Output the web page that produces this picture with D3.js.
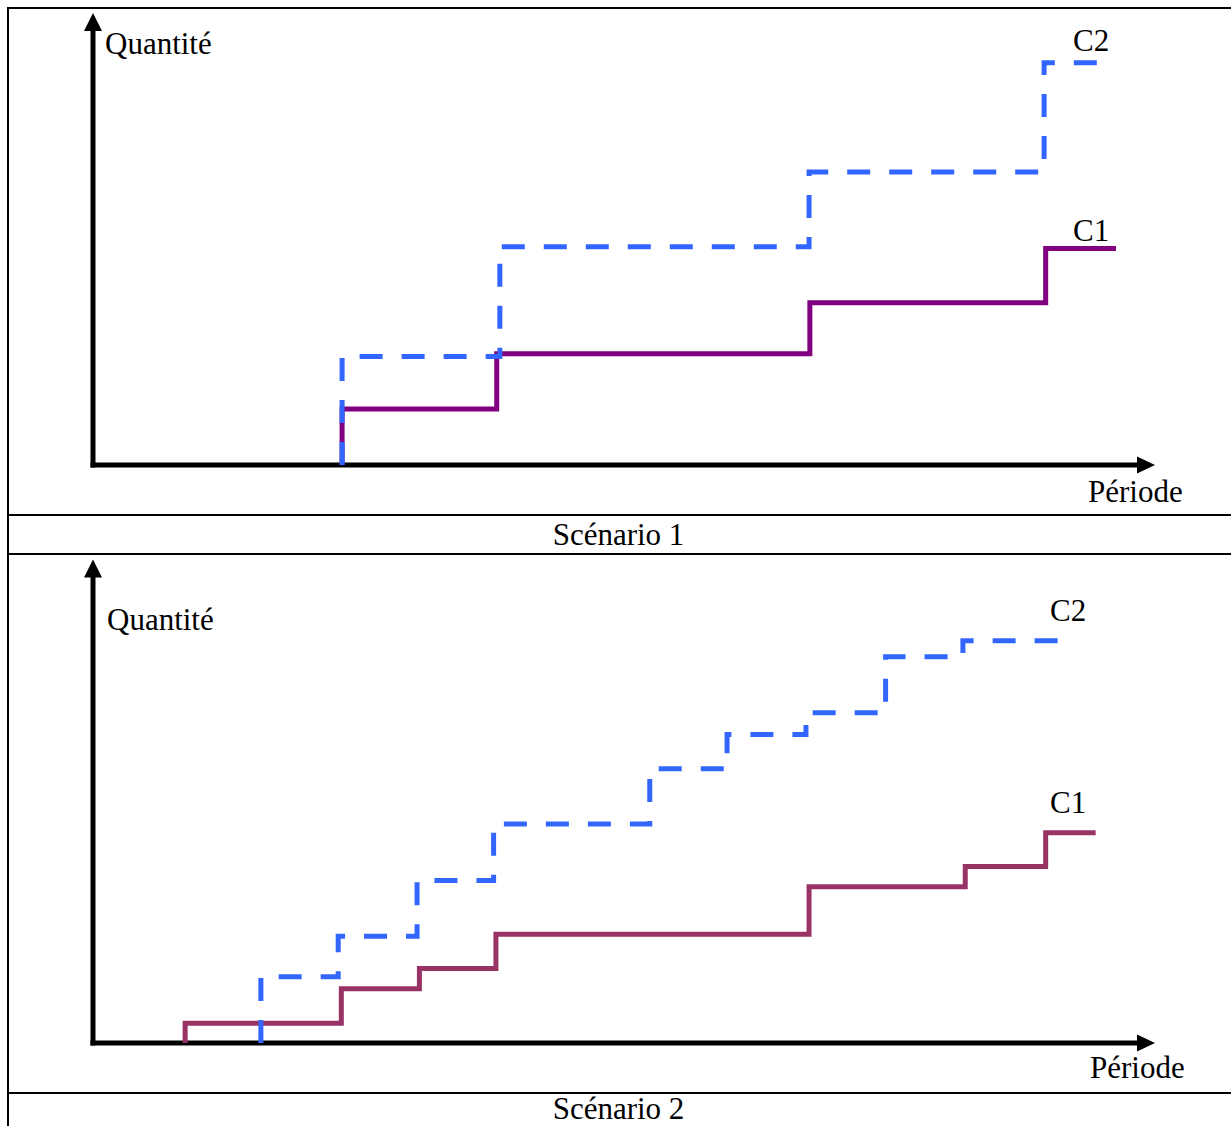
<!DOCTYPE html>
<meta charset="utf-8">
<head>
<style>
body {
  margin: 0;
  background: #fff;
}

text {
  font-family: 'Liberation Serif', 'Times New Roman', serif;
  font-size: 31px;
  fill: #000;
}

.frame {
  stroke: #000;
  stroke-width: 2;
}

.axis {
  stroke: #000;
  stroke-width: 5;
  fill: none;
}

.arrow {
  fill: #000;
}

.step {
  fill: none;
  stroke-width: 5;
  stroke-linejoin: miter;
  stroke-linecap: butt;
}
</style>
</head>

<body>
<div id="chart"></div>

<script src="https://d3js.org/d3.v7.min.js"></script>
<script>

// step data: x = period where each step starts (last value = end of line),
// levels = quantity held after each step (0-100 of the axis height)
var seriesNames = ["C1", "C2"];
var captions = ["Scénario 1", "Scénario 2"];
var yLabel = "Quantité";
var xLabel = "Période";

var s1C1Steps = [3.19, 5.17, 9.18, 12.20, 13.10];
var s1C1Levels = [12.4, 24.6, 35.9, 47.9];
var s1C2Steps = [3.19, 5.21, 9.17, 12.18, 13.02];
var s1C2Levels = [24.0, 48.3, 64.8, 89.0];

var s2C1Steps = [1.18, 3.18, 4.18, 5.16, 9.17, 11.17, 12.20, 12.84];
var s2C1Levels = [4.1, 11.2, 15.4, 22.5, 32.3, 36.5, 43.5];
var s2C2Steps = [2.15, 3.14, 4.15, 5.13, 7.13, 8.12, 9.13, 10.15, 11.14, 12.53];
var s2C2Levels = [13.7, 22.1, 33.6, 45.3, 56.7, 63.8, 68.3, 79.9, 83.2];

var W = 1231, H = 1126;

var svg = d3.select("#chart").append("svg")
    .attr("width", W)
    .attr("height", H);

var x = d3.scaleLinear()
    .domain([0, 13.6])
    .range([93, 1155]);

var panels = [
  {
    axisY: 465, tipY: 13, caption: captions[0], capY: 545,
    qx: 105, qy: 54, px: 1088, py: 502,
    labelX: 1073, labelDy: [-7, -12],
    colors: ["#800080", "#3366ff"],
    steps: [s1C1Steps, s1C2Steps], levels: [s1C1Levels, s1C2Levels]
  },
  {
    axisY: 1043, tipY: 559.5, caption: captions[1], capY: 1119,
    qx: 107, qy: 630, px: 1090, py: 1078,
    labelX: 1050, labelDy: [-20, -20],
    colors: ["#993366", "#3366ff"],
    steps: [s2C1Steps, s2C2Steps], levels: [s2C1Levels, s2C2Levels]
  }
];

// table frame
svg.append("line").attr("class", "frame")
    .attr("x1", 8).attr("x2", 8).attr("y1", 7).attr("y2", H);
[8, 515, 554, 1093].forEach(function(yy) {
  svg.append("line").attr("class", "frame")
      .attr("x1", 7).attr("x2", W).attr("y1", yy).attr("y2", yy);
});

panels.forEach(function(p) {
  var y = d3.scaleLinear()
      .domain([0, 100])
      .range([p.axisY, p.tipY]);

  var g = svg.append("g");
  var x0 = x.range()[0], x1 = x.range()[1];
  var y0 = y(0), yTop = y(100);

  // axes
  g.append("line").attr("class", "axis")
      .attr("x1", x0).attr("x2", x0)
      .attr("y1", y0 + 2.5).attr("y2", yTop + 15);
  g.append("line").attr("class", "axis")
      .attr("x1", x0 - 2.5).attr("x2", x1 - 15)
      .attr("y1", y0).attr("y2", y0);
  g.append("path").attr("class", "arrow")
      .attr("d", "M" + x0 + "," + yTop + "L" + (x0 + 9) + "," + (yTop + 18) +
                 "L" + (x0 - 9) + "," + (yTop + 18) + "Z");
  g.append("path").attr("class", "arrow")
      .attr("d", "M" + x1 + "," + y0 + "L" + (x1 - 18) + "," + (y0 - 8.5) +
                 "L" + (x1 - 18) + "," + (y0 + 8.5) + "Z");

  var line = d3.line()
      .x(function(d) { return x(d[0]); })
      .y(function(d) { return y(d[1]); })
      .curve(d3.curveStepAfter);

  seriesNames.forEach(function(name, i) {
    var st = p.steps[i], lv = p.levels[i];
    var pts = [[st[0], 0]];
    lv.forEach(function(v, k) { pts.push([st[k], v]); });
    pts.push([st[st.length - 1], lv[lv.length - 1]]);

    g.append("path")
        .attr("class", "step")
        .attr("d", line(pts))
        .attr("stroke", p.colors[i])
        .attr("stroke-dasharray", i === 1 ? "23,19" : null);

    g.append("text")
        .attr("x", p.labelX)
        .attr("y", y(lv[lv.length - 1]) + p.labelDy[i])
        .text(name);
  });

  g.append("text").attr("x", p.qx).attr("y", p.qy).text(yLabel);
  g.append("text").attr("x", p.px).attr("y", p.py).text(xLabel);
  g.append("text")
      .attr("x", 618.5)
      .attr("y", p.capY)
      .attr("text-anchor", "middle")
      .text(p.caption);
});

</script>
</body>
